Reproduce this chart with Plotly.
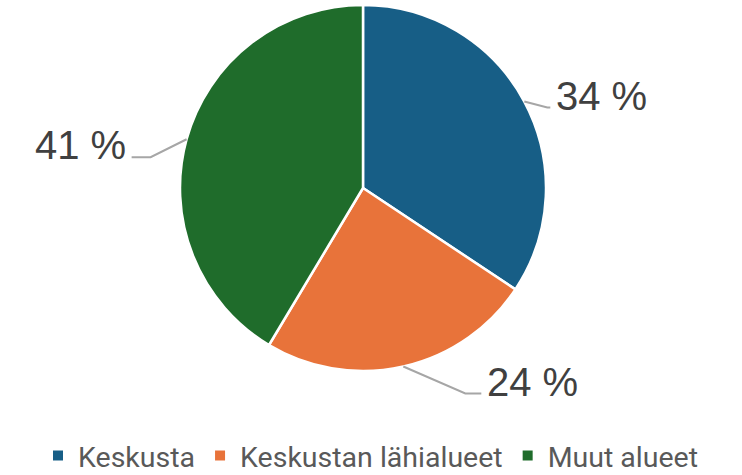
import math
import plotly.graph_objects as go

categories = ["Keskusta", "Keskustan lähialueet", "Muut alueet"]
values = [34, 24, 41]
label_texts = ["34 %", "24 %", "41 %"]
colors = ["#175e86", "#e8733a", "#1f6c2b"]

W, H = 742, 475
cx, cy, R = 363, 188, 183  # pixel center / radius of pie

# leader-line style per label: (elbow offset dx, dy, horizontal run, text anchor)
leader = [
    (23, 6, 3, "left"),
    (62, 27, 16, "left"),
    (-36, 18, -19, "right"),
]

def px(x):
    return x / W

def py(y):
    return 1 - y / H

fig = go.Figure(go.Pie(
    labels=categories, values=values, sort=False, direction="clockwise",
    rotation=0, textinfo="none", hoverinfo="label+percent",
    marker=dict(colors=colors, line=dict(color="white", width=2.5)),
    domain=dict(x=[px(cx - R), px(cx + R)], y=[py(cy + R), py(cy - R)]),
))

total = sum(values)
cum = 0
shapes, annotations = [], []
for v, txt, (dx, dy, run, anchor) in zip(values, label_texts, leader):
    mid = (cum + v / 2) / total * 2 * math.pi
    cum += v
    ex = cx + R * math.sin(mid)
    ey = cy - R * math.cos(mid)
    bx, by = ex + dx, ey + dy
    tx = bx + run
    shapes.append(dict(type="path", xref="paper", yref="paper",
                       path=f"M {px(ex)} {py(ey)} L {px(bx)} {py(by)} L {px(tx)} {py(by)}",
                       line=dict(color="#a6a6a6", width=2)))
    annotations.append(dict(x=px(tx + (4 if anchor == "left" else -4)), y=py(by - 12),
                            xref="paper", yref="paper", text=txt, showarrow=False,
                            xanchor=anchor, yanchor="middle",
                            font=dict(family="Liberation Sans, Arial, sans-serif", size=40, color="#404040")))

fig.update_layout(
    width=W, height=H, margin=dict(l=0, r=0, t=0, b=0, autoexpand=False),
    paper_bgcolor="white", plot_bgcolor="white",
    shapes=shapes, annotations=annotations,
    showlegend=True,
    legend=dict(orientation="h", x=0.5, xanchor="center", y=py(456), yanchor="middle",
                font=dict(family="Roboto, sans-serif", size=28.5, color="#595959"),
                itemsizing="constant", tracegroupgap=0, itemwidth=30),
)

fig.write_html("out.html", config={"displayModeBar": False},
               post_script="document.body.style.margin='0';document.body.style.overflow='hidden';")
